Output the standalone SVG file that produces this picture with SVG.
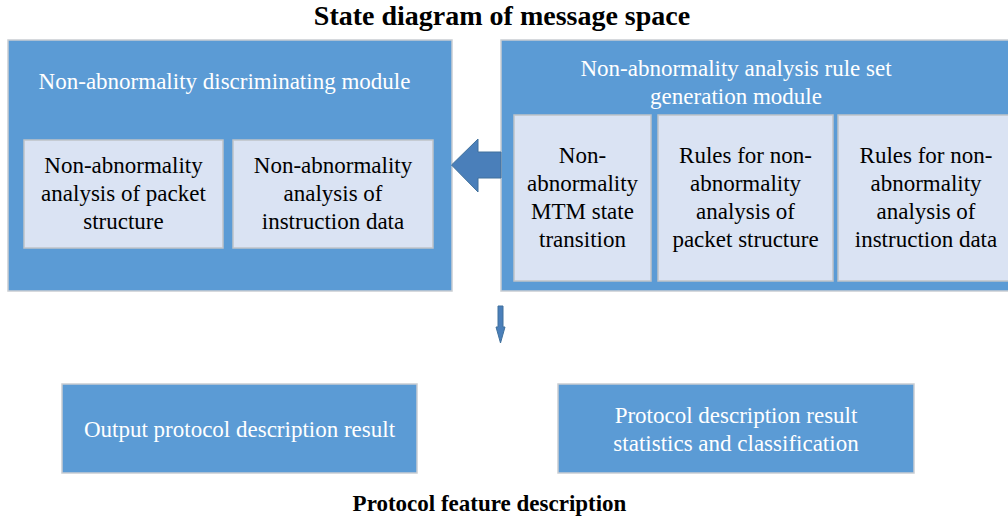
<svg xmlns="http://www.w3.org/2000/svg" width="1008" height="518" viewBox="0 0 1008 518">
<style>
.big{fill:#5b9bd5;stroke:#c9cdd2;stroke-width:1.5}
.inner{fill:#dae3f3;stroke:#bfc3c8;stroke-width:1.5}
.wt{font-family:"Liberation Serif","Times New Roman",serif;font-size:23px;fill:#ffffff;text-anchor:middle}
.bt{font-family:"Liberation Serif","Times New Roman",serif;font-size:23px;fill:#000000;text-anchor:middle}
.hd{font-family:"Liberation Serif","Times New Roman",serif;font-weight:bold;fill:#000000;text-anchor:middle}
.arr{fill:#4a7fba;stroke:#41719c;stroke-width:1}
</style>
<rect width="1008" height="518" fill="#ffffff"/>
<text class="hd" x="502" y="25" font-size="28">State diagram of message space</text>

<g id="discriminating-module">
<rect class="big" x="8" y="40" width="444" height="251"/>
<text class="wt" x="224.5" y="89">Non-abnormality discriminating module</text>
</g>
<g id="packet-structure">
<rect class="inner" x="24" y="140" width="199" height="108"/>
<text class="bt" x="123.5" y="173">Non-abnormality</text>
<text class="bt" x="123.5" y="201">analysis of packet</text>
<text class="bt" x="123.5" y="229">structure</text>
</g>
<g id="instruction-data">
<rect class="inner" x="233" y="140" width="200" height="108"/>
<text class="bt" x="333" y="173">Non-abnormality</text>
<text class="bt" x="333" y="201">analysis of</text>
<text class="bt" x="333" y="229">instruction data</text>
</g>

<g id="rule-set-module">
<rect class="big" x="501" y="40" width="520" height="251"/>
<text class="wt" x="736" y="76">Non-abnormality analysis rule set</text>
<text class="wt" x="736" y="104">generation module</text>
</g>
<g id="mtm-state">
<rect class="inner" x="514" y="115" width="137" height="166"/>
<text class="bt" x="582.5" y="163">Non-</text>
<text class="bt" x="582.5" y="191">abnormality</text>
<text class="bt" x="582.5" y="219">MTM state</text>
<text class="bt" x="582.5" y="247">transition</text>
</g>
<g id="rules-packet">
<rect class="inner" x="658" y="115" width="175" height="166"/>
<text class="bt" x="745.5" y="163">Rules for non-</text>
<text class="bt" x="745.5" y="191">abnormality</text>
<text class="bt" x="745.5" y="219">analysis of</text>
<text class="bt" x="745.5" y="247">packet structure</text>
</g>
<g id="rules-instruction">
<rect class="inner" x="838" y="115" width="176" height="166"/>
<text class="bt" x="926" y="163">Rules for non-</text>
<text class="bt" x="926" y="191">abnormality</text>
<text class="bt" x="926" y="219">analysis of</text>
<text class="bt" x="926" y="247">instruction data</text>
</g>

<g id="output-result">
<rect class="big" x="62" y="384" width="355" height="89"/>
<text class="wt" x="239.5" y="437">Output protocol description result</text>
</g>
<g id="statistics">
<rect class="big" x="558" y="384" width="356" height="89"/>
<text class="wt" x="736" y="423">Protocol description result</text>
<text class="wt" x="736" y="451">statistics and classification</text>
</g>

<g id="connectors">
<polygon class="arr" points="451.5,165 478,139 478,152 501,152 501,178 478,178 478,192"/>
<polygon class="arr" points="498,306 503,306 503,327 505,327 500.5,343 496,327 498,327"/>
</g>

<text class="hd" x="489.5" y="511" font-size="23">Protocol feature description</text>
</svg>
